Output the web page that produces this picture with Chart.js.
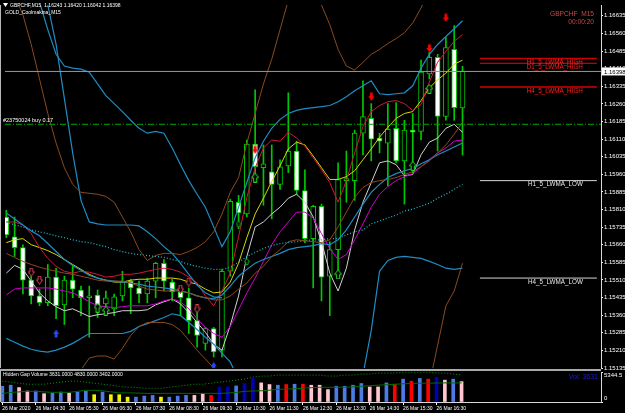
<!DOCTYPE html>
<html>
<head>
<meta charset="utf-8">
<title>GBPCHF M15</title>
<script src="https://cdn.jsdelivr.net/npm/chart.js@4.4.1/dist/chart.umd.min.js"></script>
<style>
  html, body { margin: 0; padding: 0; background: #000; }
  #wrap { position: relative; width: 625px; height: 413px; overflow: hidden; background: #000; }
  #priceCanvas { position: absolute; left: 0; top: 0; }
  #volCanvas { position: absolute; left: 0; top: 369px; }
</style>
</head>
<body>
<div id="wrap">
  <canvas id="priceCanvas" width="625" height="374"></canvas>
  <canvas id="volCanvas" width="625" height="44"></canvas>
</div>
<script>
// ---------- data ----------

// 26 Mar 2020, M15 bars from 03:30 to 17:15
const open  = [1.15778,1.15694,1.15648,1.15509,1.15442,1.15413,1.15522,1.15404,1.15509,1.15467,1.15434,1.15446,1.15408,1.15387,1.15442,1.15505,1.15476,1.15450,1.15505,1.15581,1.15501,1.15459,1.15434,1.15337,1.15240,1.15303,1.15211,1.15547,1.15841,1.15791,1.16089,1.15988,1.15971,1.15917,1.15996,1.16059,1.15891,1.15686,1.15824,1.15526,1.15639,1.15933,1.15933,1.16135,1.16198,1.16114,1.16093,1.16156,1.16017,1.16148,1.16143,1.16387,1.16458,1.16206,1.16492,1.16243];
const high  = [1.15807,1.15778,1.15660,1.15526,1.15471,1.15576,1.15560,1.15526,1.15568,1.15484,1.15484,1.15467,1.15463,1.15450,1.15547,1.15513,1.15505,1.15518,1.15585,1.15597,1.15513,1.15484,1.15476,1.15387,1.15308,1.15308,1.15555,1.15854,1.15870,1.16106,1.16320,1.16085,1.16085,1.16022,1.16307,1.16101,1.15979,1.15828,1.15833,1.15673,1.16009,1.16059,1.16148,1.16358,1.16261,1.16135,1.16261,1.16265,1.16190,1.16219,1.16446,1.16479,1.16471,1.16542,1.16593,1.16420];
const low   = [1.15690,1.15610,1.15450,1.15408,1.15400,1.15400,1.15345,1.15320,1.15434,1.15358,1.15266,1.15350,1.15379,1.15358,1.15421,1.15366,1.15413,1.15413,1.15434,1.15463,1.15421,1.15358,1.15282,1.15224,1.15211,1.15182,1.15182,1.15526,1.15728,1.15778,1.15959,1.15828,1.15770,1.15896,1.15967,1.15875,1.15669,1.15476,1.15421,1.15358,1.15518,1.15841,1.15849,1.16043,1.16017,1.16051,1.15912,1.16009,1.15833,1.15967,1.16106,1.16366,1.16059,1.16190,1.16190,1.16042];
const close = [1.15702,1.15648,1.15509,1.15442,1.15413,1.15522,1.15400,1.15509,1.15471,1.15434,1.15442,1.15400,1.15434,1.15438,1.15505,1.15476,1.15450,1.15505,1.15581,1.15505,1.15459,1.15434,1.15337,1.15274,1.15303,1.15203,1.15547,1.15845,1.15795,1.16089,1.15992,1.16005,1.15917,1.15992,1.16059,1.15891,1.15686,1.15824,1.15522,1.15639,1.15938,1.15942,1.16135,1.16206,1.16110,1.16101,1.16152,1.16017,1.16148,1.16139,1.16395,1.16458,1.16206,1.16500,1.16244,1.16398];

// indicator lines
const yellowMa  = [1.15669,1.15681,1.15686,1.15660,1.15648,1.15635,1.15618,1.15597,1.15576,1.15555,1.15534,1.15518,1.15509,1.15501,1.15501,1.15509,1.15513,1.15513,1.15518,1.15518,1.15518,1.15513,1.15501,1.15492,1.15471,1.15455,1.15459,1.15501,1.15581,1.15690,1.15791,1.15858,1.15929,1.15996,1.16068,1.16097,1.16085,1.16038,1.15988,1.15938,1.15938,1.15950,1.15975,1.16022,1.16068,1.16118,1.16160,1.16198,1.16219,1.16227,1.16274,1.16328,1.16362,1.16391,1.16429,1.16446];
const redMa     = [1.15757,1.15757,1.15744,1.15707,1.15648,1.15602,1.15568,1.15547,1.15539,1.15547,1.15543,1.15534,1.15522,1.15526,1.15534,1.15534,1.15539,1.15547,1.15555,1.15560,1.15555,1.15543,1.15522,1.15497,1.15442,1.15400,1.15463,1.15539,1.15694,1.15862,1.15988,1.16072,1.16106,1.16101,1.16139,1.16114,1.16080,1.16030,1.15980,1.15925,1.15841,1.15933,1.16051,1.16164,1.16227,1.16253,1.16269,1.16274,1.16261,1.16232,1.16257,1.16353,1.16437,1.16484,1.16526,1.16555];
const whiteMa   = [1.15539,1.15572,1.15555,1.15505,1.15455,1.15421,1.15396,1.15379,1.15387,1.15371,1.15354,1.15362,1.15366,1.15371,1.15379,1.15379,1.15379,1.15383,1.15404,1.15417,1.15429,1.15408,1.15371,1.15329,1.15287,1.15236,1.15211,1.15316,1.15442,1.15610,1.15736,1.15757,1.15791,1.15820,1.15858,1.15875,1.15841,1.15778,1.15673,1.15539,1.15463,1.15560,1.15723,1.15841,1.15925,1.16009,1.16017,1.16001,1.15954,1.15959,1.16043,1.16097,1.16114,1.16156,1.16173,1.16139];
const magentaMa = [1.15446,1.15471,1.15476,1.15476,1.15476,1.15476,1.15471,1.15463,1.15455,1.15438,1.15417,1.15400,1.15396,1.15392,1.15396,1.15400,1.15400,1.15400,1.15408,1.15421,1.15429,1.15417,1.15387,1.15345,1.15308,1.15282,1.15266,1.15312,1.15383,1.15455,1.15518,1.15589,1.15660,1.15715,1.15757,1.15799,1.15799,1.15774,1.15707,1.15644,1.15597,1.15618,1.15681,1.15749,1.15820,1.15875,1.15908,1.15933,1.15950,1.15963,1.15992,1.16022,1.16051,1.16072,1.16101,1.16106];
const slowMa    = [1.15757,1.15744,1.15736,1.15723,1.15715,1.15707,1.15698,1.15690,1.15681,1.15673,1.15669,1.15660,1.15652,1.15639,1.15631,1.15623,1.15618,1.15614,1.15610,1.15606,1.15597,1.15589,1.15576,1.15568,1.15560,1.15555,1.15555,1.15564,1.15585,1.15610,1.15627,1.15644,1.15656,1.15665,1.15669,1.15673,1.15677,1.15681,1.15681,1.15686,1.15686,1.15702,1.15715,1.15723,1.15749,1.15761,1.15774,1.15786,1.15803,1.15812,1.15824,1.15837,1.15858,1.15875,1.15896,1.15917];
const bandUpper = [1.16933,1.16870,1.16807,1.16744,1.16694,1.16576,1.16471,1.16421,1.16412,1.16408,1.16395,1.16345,1.16295,1.16261,1.16227,1.16190,1.16156,1.16135,1.16143,1.16135,1.16072,1.16001,1.15933,1.15875,1.15820,1.15736,1.15652,1.15715,1.15820,1.15925,1.16030,1.16101,1.16156,1.16194,1.16219,1.16232,1.16240,1.16244,1.16248,1.16253,1.16269,1.16290,1.16316,1.16337,1.16358,1.16303,1.16299,1.16303,1.16307,1.16337,1.16412,1.16471,1.16513,1.16547,1.16580,1.16614];
const bandInner = [1.17185,1.17101,1.17017,1.16933,1.16807,1.16681,1.16513,1.16282,1.16051,1.15849,1.15757,1.15749,1.15744,1.15744,1.15744,1.15744,1.15740,1.15715,1.15686,1.15652,1.15623,1.15581,1.15534,1.15488,1.15455,1.15438,1.15434,null,null,null,null,null,null,null,null,null,null,null,null,null,null,null,null,null,null,null,null,null,null,null,null,null,null,null,null,null];
const bandMid   = [1.15795,1.15770,1.15744,1.15719,1.15698,1.15665,1.15631,1.15597,1.15572,1.15551,1.15530,1.15518,1.15509,1.15505,1.15501,1.15497,1.15492,1.15484,1.15480,1.15476,1.15471,1.15463,1.15455,1.15442,1.15434,1.15429,1.15446,1.15484,1.15526,1.15555,1.15581,1.15597,1.15610,1.15623,1.15639,1.15648,1.15652,1.15656,1.15665,1.15660,1.15681,1.15723,1.15778,1.15833,1.15883,1.15917,1.15946,1.15963,1.15975,1.15984,1.16005,1.16022,1.16043,1.16059,1.16076,1.16093];
const bandLower = [1.15261,1.15245,1.15228,1.15215,1.15207,1.15203,1.15211,1.15224,1.15240,1.15261,1.15282,1.15282,1.15282,1.15282,1.15282,1.15291,1.15312,1.15324,1.15337,1.15350,1.15366,1.15358,1.15329,1.15299,1.15266,1.15236,1.15198,1.15161,1.15085,1.15022,1.14993,1.14984,1.14980,1.14980,1.14984,1.14993,1.14993,1.14980,1.14959,1.14959,1.14967,1.14984,1.15001,1.15106,1.15295,1.15547,1.15593,1.15606,1.15610,1.15606,1.15602,1.15589,1.15576,1.15560,1.15555,1.15560];
const envUpper  = [1.16807,1.16723,1.16639,1.16513,1.16366,1.16219,1.16093,1.15988,1.15917,1.15883,1.15879,1.15875,1.15866,1.15841,1.15778,1.15715,1.15639,1.15593,1.15614,1.15623,1.15623,1.15618,1.15631,1.15648,1.15673,1.15715,1.15791,1.15883,1.15946,1.16093,1.16219,1.16345,1.16450,1.16576,1.16702,1.16765,1.16786,1.16744,1.16681,1.16597,1.16492,1.16421,1.16404,1.16437,1.16471,1.16492,1.16517,1.16538,1.16563,1.16605,1.16668,1.16744,1.16807,1.16849,1.16883,1.16912];
const envMid    = [1.15623,1.15606,1.15589,1.15576,1.15564,1.15555,1.15547,1.15539,1.15534,1.15526,1.15518,1.15509,1.15505,1.15505,1.15505,1.15497,1.15484,1.15471,1.15467,1.15463,1.15463,1.15463,1.15455,1.15442,1.15434,1.15425,1.15425,1.15442,1.15471,1.15497,1.15539,1.15568,1.15610,1.15639,1.15673,1.15681,1.15677,1.15673,1.15669,1.15681,1.15736,1.15799,1.15862,1.15904,1.15925,1.15933,1.15938,1.15946,1.15959,1.15971,1.15992,1.16017,1.16051,1.16085,1.16131,1.16181];
const envLower  = [1.14959,1.14959,1.14967,1.14980,1.15001,1.15022,1.15043,1.15064,1.15085,1.15127,1.15177,1.15186,1.15186,1.15173,1.15219,1.15274,1.15312,1.15329,1.15329,1.15329,1.15320,1.15295,1.15253,1.15211,1.15173,1.15135,1.15064,1.14959,1.14875,1.14833,1.14812,1.14791,1.14791,1.14791,1.14791,1.14791,1.14791,1.14791,1.14791,1.14791,1.14799,1.14812,1.14833,1.14854,1.14875,1.14896,1.14917,1.14938,1.14959,1.15001,1.15022,1.15064,1.15232,1.15400,1.15463,1.15581];

// signal arrows (bar index, price)
const sellBars = [30, 44, 51, 53];
const sellPrices = [1.16064, 1.16290, 1.16496, 1.16626];
const warnBars = [3, 4, 21, 22, 23];
const warnPrices = [1.15543, 1.15509, 1.15471, 1.15501, 1.15387];
const buyBars = [11, 12, 30, 40, 49, 51];
const buyPrices = [1.15392, 1.15379, 1.15946, 1.15534, 1.15996, 1.16324];
const minorBuyBars = [28, 29];
const minorBuyPrices = [1.15749, 1.15589];
const blueBars = [6, 25];
const bluePrices = [1.15282, 1.15144];

// horizontal levels
const levelNames  = ['H1_5_LWMA_HIGH', 'D1_5_LWMA_HIGH', 'H4_5_LWMA_HIGH', 'H1_5_LWMA_LOW', 'H4_5_LWMA_LOW'];
const levelPrices = [1.16454, 1.16433, 1.16332, 1.15933, 1.15518];
const orderPrice = 1.16173;
const orderLabel = '#23750024 buy 0.17';

// volume panel
const volume   = [2806,2987,2570,1955,1955,1484,1593,1774,1593,1774,1900,1303,1774,1303,1303,869,869,1050,1177,869,869,1050,1177,1177,1484,1177,2679,2679,2860,3294,4199,3403,3113,2987,3113,3168,3168,2987,2987,2208,2806,2806,2987,3294,2679,2679,3403,3168,4073,3711,4199,4073,4380,3892,4073,3631];
const volClass = ['normal','normal','churn','churn','normal','churn','normal','normal','churn','normal','normal','low','normal','low','low','low','normal','normal','normal','low','normal','normal','normal','churn','churn','climaxDown','climaxUp','climaxUp','normal','climaxUp','climaxUp','churn','churn','normal','climaxDown','normal','climaxDown','churn','churn','churn','normal','normal','normal','normal','churn','churn','normal','climaxDown','normal','climaxDown','normal','climaxDown','climaxUp','churn','normal','churn'];
const volUpper = [3711,3530,3349,3168,3168,3168,3349,3530,3711,3711,3530,3349,3168,2987,2806,2625,2625,2444,2444,2444,2625,2806,2987,3168,3168,3349,3530,3711,3892,4073,4435,4616,4616,4797,4797,4797,4797,4797,4797,4616,4616,4797,4797,4978,4978,5159,5159,5159,5300,5300,5300,5300,5159,5159,4978,4830];
const volAvg   = [1539,1700,1800,1900,1900,1800,1720,1720,1720,1900,2080,2080,2000,1800,1630,1630,1600,1540,1540,1540,1540,1540,1540,1540,1540,1540,1540,1600,1700,1900,1950,2000,2100,2260,2300,2350,2450,2550,2625,2625,2625,2625,2700,2800,2900,3000,3077,3150,3250,3300,3350,3350,3380,3400,3400,3402];

// axis ticks
const priceTicks = [1.15135,1.15210,1.15285,1.15360,1.15435,1.15510,1.15585,1.15660,1.15735,1.15810,1.15885,1.15960,1.16035,1.16110,1.16185,1.16260,1.16335,1.16410,1.16485,1.16560,1.16635];
const volumeTicks = [0, 5344.5];
const timeTickBars = [0, 4, 8, 12, 16, 20, 24, 28, 32, 36, 40, 44, 48, 52];
const timeTickLabels = ['26 Mar 2020','26 Mar 04:30','26 Mar 05:30','26 Mar 06:30','26 Mar 07:30','26 Mar 08:30','26 Mar 09:30','26 Mar 10:30','26 Mar 11:30','26 Mar 12:30','26 Mar 13:30','26 Mar 14:30','26 Mar 15:30','26 Mar 16:30'];

// ---------- styling / helpers ----------

const FONT = '"Liberation Sans", Arial, sans-serif';
Chart.defaults.font.family = FONT;
const GREEN = '#00c800';
const xMin = -0.16, xMax = 71.7;       // bar-index range shown (chart shifted left like MT4)
const levelSpan = [57.1, 71.2];
const levelColors = ['#ff0000', '#ff0000', '#a00000', '#d8d8d8', '#d8d8d8'];
const levelTextColors = ['#ff2020', '#ff2020', '#ff2020', '#e8e8e8', '#e8e8e8'];
const volColors = { normal: '#4a7be6', churn: '#ffc6cf', low: '#f4f400', climaxDown: '#ff0000', climaxUp: '#0000b4' };

const pts = values => values.map((v, i) => ({ x: i, y: v }));
const markers = (bars, prices) => bars.map((b, i) => ({ x: b, y: prices[i] }));

function lineSet(values, color, extra) {
  return Object.assign({
    type: 'line', data: pts(values), borderColor: color, borderWidth: 1,
    pointRadius: 0, tension: 0, order: 5
  }, extra || {});
}

function arrowImage(up, fill, stroke, w, h) {
  const c = document.createElement('canvas');
  c.width = w; c.height = h;
  const g = c.getContext('2d');
  const hw = w / 2, headH = Math.round(h * 0.5), sw = w * 0.2;
  const shape = [[hw, 0.5], [w - 0.5, headH], [hw + sw, headH], [hw + sw, h - 0.5], [hw - sw, h - 0.5], [hw - sw, headH], [0.5, headH]];
  g.beginPath();
  shape.forEach(([px, py], k) => {
    const yy = up ? py : h - py;
    if (k) g.lineTo(px, yy); else g.moveTo(px, yy);
  });
  g.closePath();
  if (fill) { g.fillStyle = fill; g.fill(); }
  if (stroke) { g.strokeStyle = stroke; g.lineWidth = 1; g.stroke(); }
  return c;
}

function markerSet(bars, prices, img) {
  return { type: 'scatter', data: markers(bars, prices), pointStyle: img, pointRadius: 3, order: 1 };
}

// ---------- price chart ----------

const priceOverlay = {
  id: 'priceOverlay',
  afterDraw(chart) {
    const { ctx, chartArea: a, scales: { x, y } } = chart;
    ctx.save();
    // chart frame on the left
    ctx.fillStyle = '#b8b8b8';
    ctx.fillRect(0, a.top, 1, a.bottom - a.top);

    // header
    ctx.fillStyle = '#ffffff';
    ctx.beginPath(); ctx.moveTo(3, 3); ctx.lineTo(8, 3); ctx.lineTo(5.5, 7); ctx.closePath(); ctx.fill();
    ctx.font = '5px ' + FONT;
    ctx.textBaseline = 'middle';
    ctx.textAlign = 'left';
    ctx.fillText('GBPCHF,M15  ' + [open[55], high[55], low[55], close[55]].map(v => v.toFixed(5)).join(' '), 10, 5.5);
    ctx.fillText('GOLD_Coolmakina_M15', 5, 12.5);

    // open order label
    ctx.font = '5.5px ' + FONT;
    ctx.fillText(orderLabel, 3, y.getPixelForValue(orderPrice) - 4);

    // level labels
    ctx.font = '6.3px ' + FONT;
    ctx.textAlign = 'right';
    const lx = x.getPixelForValue(levelSpan[1]) - 14;
    levelNames.forEach((name, i) => {
      ctx.fillStyle = levelTextColors[i];
      ctx.fillText(name, lx, y.getPixelForValue(levelPrices[i]) + 4);
    });

    // symbol + bar timer
    ctx.fillStyle = '#c84848';
    ctx.font = '6.6px ' + FONT;
    ctx.fillText('GBPCHF  M15', 594, 14);
    ctx.fillText('00:00:20', 594, 22.5);

    // last price tag on the axis
    const last = close[close.length - 1];
    const py = y.getPixelForValue(last);
    ctx.fillStyle = '#ffffff';
    ctx.fillRect(a.right + 1, py - 4, 24, 8);
    ctx.fillStyle = '#000000';
    ctx.font = '6px ' + FONT;
    ctx.textAlign = 'left';
    ctx.fillText(last.toFixed(5), a.right + 3, py + 0.5);
    ctx.restore();
  }
};

const levelSets = levelPrices.map((p, i) => ({
  type: 'line',
  data: [{ x: levelSpan[0], y: p }, { x: levelSpan[1], y: p }],
  borderColor: levelColors[i], borderWidth: i === 2 ? 2 : 1, pointRadius: 0, order: 4
}));

const priceChart = new Chart(document.getElementById('priceCanvas'), {
  type: 'bar',
  data: {
    datasets: [
      // candles
      { type: 'bar', data: low.map((l, i) => ({ x: i, y: [l, high[i]] })), backgroundColor: GREEN,
        barThickness: 1, grouped: false, order: 12 },
      { type: 'bar', data: open.map((o, i) => ({ x: i, y: [o, close[i]] })),
        backgroundColor: open.map((o, i) => close[i] < o ? '#ffffff' : '#000000'),
        borderColor: GREEN, borderWidth: 1, borderSkipped: false, barThickness: 5, minBarLength: 2,
        grouped: false, order: 11 },
      // outer envelope (brown)
      lineSet(envUpper, '#8b4a1e'),
      lineSet(envMid, '#8b4a1e'),
      lineSet(envLower, '#8b4a1e'),
      // bands (blue)
      lineSet(bandUpper, '#1f8cc4', { borderWidth: 1.2 }),
      lineSet(bandInner, '#1f8cc4', { borderWidth: 1.2, spanGaps: false }),
      lineSet(bandMid, '#1f8cc4', { borderWidth: 1.2 }),
      lineSet(bandLower, '#1f8cc4', { borderWidth: 1.2 }),
      lineSet(slowMa, '#1fb8c8', { borderWidth: 1.3, borderDash: [1, 2] }),
      // moving averages
      lineSet(magentaMa, '#d000d0'),
      lineSet(whiteMa, '#d2d2d2'),
      lineSet(redMa, '#d01838'),
      lineSet(yellowMa, '#d8d800'),
      // price lines
      { type: 'line', data: [{ x: xMin, y: close[55] }, { x: xMax, y: close[55] }],
        borderColor: '#8c9aac', borderWidth: 1, pointRadius: 0, order: 4 },
      { type: 'line', data: [{ x: xMin, y: orderPrice }, { x: xMax, y: orderPrice }],
        borderColor: '#00a800', borderWidth: 1, borderDash: [6, 2, 1, 2], pointRadius: 0, order: 4 },
      ...levelSets,
      // arrows
      markerSet(sellBars, sellPrices, arrowImage(false, '#ff0000', null, 7, 9)),
      markerSet(warnBars, warnPrices, arrowImage(false, '#000000', '#e0405a', 7, 9)),
      markerSet(buyBars, buyPrices, arrowImage(true, '#000000', '#22e022', 8, 10)),
      markerSet(minorBuyBars, minorBuyPrices, arrowImage(true, '#000000', '#10a010', 6, 7)),
      markerSet(blueBars, bluePrices, arrowImage(true, '#2848ff', null, 7, 9))
    ]
  },
  options: {
    responsive: false,
    animation: false,
    events: [],
    layout: { padding: { left: 1, right: 0, top: 0, bottom: 6 } },
    plugins: { legend: { display: false }, tooltip: { enabled: false } },
    scales: {
      x: { type: 'linear', min: xMin, max: xMax, offset: false, bounds: 'data', display: false },
      y: {
        position: 'right', min: 1.15135, max: 1.16681,
        afterBuildTicks: s => { s.ticks = priceTicks.map(v => ({ value: v })); },
        afterFit: s => { s.width = 24; s.paddingTop = 0; s.paddingBottom = 0; },
        ticks: { color: '#ffffff', font: { size: 6 }, padding: 1, autoSkip: false, callback: v => v.toFixed(5) },
        grid: { drawOnChartArea: false, color: '#ffffff', tickLength: 2 },
        border: { color: '#d8d8d8' }
      }
    }
  },
  plugins: [priceOverlay]
});

// ---------- volume chart ----------

const volOverlay = {
  id: 'volOverlay',
  afterDraw(chart) {
    const { ctx, chartArea: a } = chart;
    ctx.save();
    ctx.fillStyle = '#a8a8a8';
    ctx.fillRect(0, 0, a.right, 2);
    ctx.fillStyle = '#b8b8b8';
    ctx.fillRect(0, 2, 1, a.bottom - 2);
    ctx.fillStyle = '#ffffff';
    ctx.font = '5px ' + FONT;
    ctx.textBaseline = 'middle';
    ctx.fillText('Hidden Gap Volume ' + [volume[55], volUpper[55], volAvg[55]].map(v => v.toFixed(4)).join(' '), 3, 6);
    ctx.fillStyle = '#1a1ae0';
    ctx.font = '7px ' + FONT;
    ctx.textAlign = 'right';
    ctx.fillText('Vol: ' + volume[55], 598, 8.5);
    ctx.restore();
  }
};

const volChart = new Chart(document.getElementById('volCanvas'), {
  type: 'bar',
  data: {
    datasets: [
      { type: 'bar', data: pts(volume), backgroundColor: volClass.map(c => volColors[c]),
        barThickness: 3, grouped: false, order: 5 },
      { type: 'line', data: pts(volAvg), borderColor: '#006a00', borderWidth: 1, pointRadius: 0, order: 2 },
      { type: 'line', data: pts(volUpper), borderColor: '#00a000', borderWidth: 1, borderDash: [1, 2], pointRadius: 0, order: 1 }
    ]
  },
  options: {
    responsive: false,
    animation: false,
    events: [],
    layout: { padding: { left: 1, right: 0, top: 3, bottom: 0 } },
    plugins: { legend: { display: false }, tooltip: { enabled: false } },
    scales: {
      x: {
        type: 'linear', min: xMin, max: xMax, offset: false, bounds: 'data',
        afterBuildTicks: s => { s.ticks = timeTickBars.map(v => ({ value: v })); },
        afterFit: s => { s.height = 11; s.paddingLeft = 0; s.paddingRight = 0; },
        ticks: { color: '#ffffff', font: { size: 5 }, align: 'start', maxRotation: 0, autoSkip: false, padding: 1,
                 callback: (v, i) => timeTickLabels[i] },
        grid: { drawOnChartArea: false, offset: false, color: '#ffffff', tickLength: 3 },
        border: { color: '#d8d8d8' }
      },
      y: {
        position: 'right', min: 0, max: 5344.5,
        afterBuildTicks: s => { s.ticks = volumeTicks.map(v => ({ value: v })); },
        afterFit: s => { s.width = 24; s.paddingTop = 0; s.paddingBottom = 0; },
        // MT4 prints the max label just below its line and the 0 label just above the base
        ticks: { color: '#ffffff', font: { size: 6, lineHeight: 1.2 }, padding: 1, autoSkip: false,
                 callback: v => v === 0 ? ['0', ''] : ['', String(v)] },
        grid: { drawOnChartArea: false, color: '#ffffff', tickLength: 2 },
        border: { color: '#d8d8d8' }
      }
    }
  },
  plugins: [volOverlay]
});
</script>
</body>
</html>
